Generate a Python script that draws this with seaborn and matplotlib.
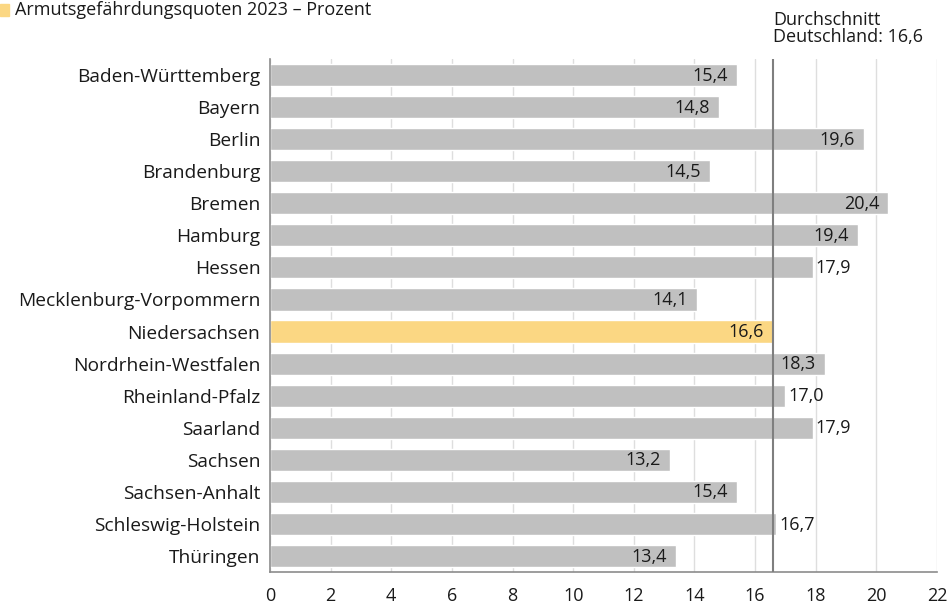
import matplotlib
matplotlib.use("Agg")
import matplotlib.pyplot as plt
import seaborn as sns
import pandas as pd

states = ["Baden-Württemberg", "Bayern", "Berlin", "Brandenburg", "Bremen", "Hamburg",
          "Hessen", "Mecklenburg-Vorpommern", "Niedersachsen", "Nordrhein-Westfalen",
          "Rheinland-Pfalz", "Saarland", "Sachsen", "Sachsen-Anhalt",
          "Schleswig-Holstein", "Thüringen"]
values = [15.4, 14.8, 19.6, 14.5, 20.4, 19.4, 17.9, 14.1, 16.6, 18.3, 17.0, 17.9, 13.2, 15.4, 16.7, 13.4]
highlight = "Niedersachsen"
average = 16.6
xticks = list(range(0, 23, 2))
title = "Armutsgefährdungsquoten 2023 – Prozent"

sns.set_theme(style="white")
plt.rcParams['font.family'] = ['Open Sans', 'DejaVu Sans']

df = pd.DataFrame({"Land": states, "Wert": values})
df["grp"] = ["hl" if s == highlight else "other" for s in states]

fig = plt.figure(figsize=(9.5, 6.07), dpi=100)
ax = fig.add_axes([270/950, 1 - 572/607, (937-270)/950, (572-59)/607])

sns.barplot(data=df, y="Land", x="Wert", hue="grp", orient="h",
            palette={"hl": "#fbd783", "other": "#c0c0c0"}, dodge=False,
            width=0.69, legend=False, ax=ax, saturation=1, zorder=2)

ax.set_xlim(0, 22)
ax.set_ylim(len(states) - 0.5, -0.5)
ax.set_xticks(xticks)
ax.set_xticklabels([str(t) for t in xticks], fontsize=13, color="#1a1a1a")
ax.tick_params(axis="x", length=0, pad=11)
ax.tick_params(axis="y", length=0, pad=7, labelsize=13.8, labelcolor="#1a1a1a")
ax.set_xlabel("")
ax.set_ylabel("")
ax.grid(axis="x", color="#dedede", linewidth=1, zorder=0)
for sp in ["top", "right"]:
    ax.spines[sp].set_visible(False)
for sp in ["left", "bottom"]:
    ax.spines[sp].set_color("#8c8c8c")
    ax.spines[sp].set_linewidth(1.2)

ax.axvline(average, color="#7f7f7f", linewidth=1.5, zorder=4)

for i, v in enumerate(values):
    lab = f"{v:.1f}".replace(".", ",")
    if v <= average or v - average > 1.5:
        ax.text(v - 0.3, i + 0.02, lab, ha="right", va="center", fontsize=13, color="#1a1a1a", zorder=5)
    else:
        ax.text(v + 0.1, i + 0.02, lab, ha="left", va="center", fontsize=13, color="#1a1a1a", zorder=5)

ax.text(average, 1.025, "Durchschnitt\nDeutschland: 16,6", transform=ax.get_xaxis_transform(),
        ha="left", va="bottom", fontsize=13, color="#1a1a1a", linespacing=0.95)

fig.text(15/950, 1 - 15/607, title, ha="left", va="baseline", fontsize=13, color="#1a1a1a")
fig.patches.append(plt.Rectangle((0, 1 - 16/607), 9/950, 12/607, transform=fig.transFigure,
                                 color="#fbd783", figure=fig))

fig.savefig("out.png", dpi=100)
